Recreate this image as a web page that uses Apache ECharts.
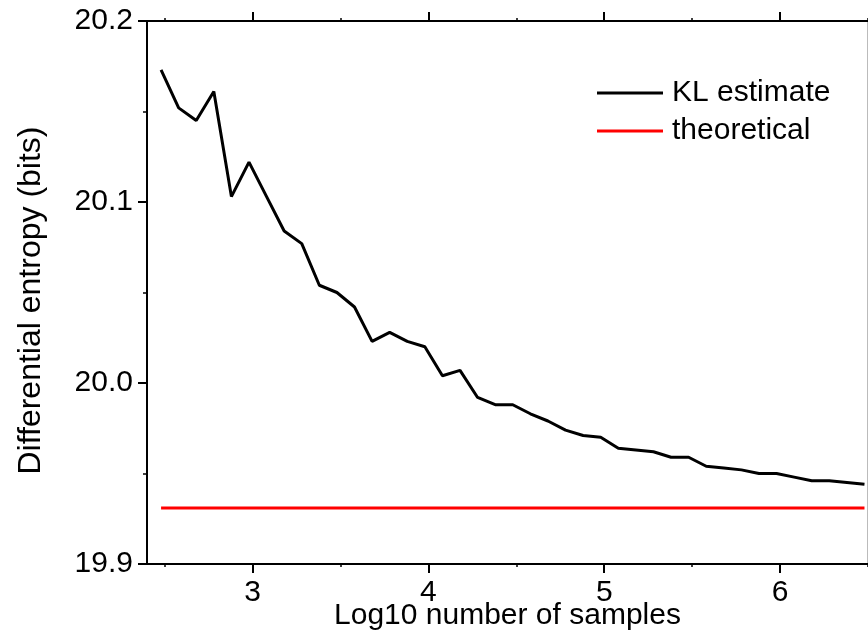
<!DOCTYPE html>
<html>
<head>
<meta charset="utf-8">
<style>
  html, body { margin: 0; padding: 0; background: #fff; }
  #chart { width: 868px; height: 634px; }
</style>
<script src="https://cdn.jsdelivr.net/npm/echarts@6/dist/echarts.min.js"></script>
</head>
<body>
<div id="chart"></div>
<script>
// log10 of the sample count at each estimate
const logSamples = [
  2.48, 2.58, 2.68, 2.78, 2.88, 2.98, 3.08, 3.18, 3.28, 3.38,
  3.48, 3.58, 3.68, 3.78, 3.88, 3.98, 4.08, 4.18, 4.28, 4.38,
  4.48, 4.58, 4.68, 4.78, 4.88, 4.98, 5.08, 5.18, 5.28, 5.38,
  5.48, 5.58, 5.68, 5.78, 5.88, 5.98, 6.08, 6.18, 6.28, 6.38,
  6.48
];
// Kozachenko-Leonenko entropy estimate (bits)
const klEstimate = [
  20.173, 20.152, 20.145, 20.161, 20.103, 20.122, 20.103, 20.084, 20.077, 20.054,
  20.050, 20.042, 20.023, 20.028, 20.023, 20.020, 20.004, 20.007, 19.992, 19.988,
  19.988, 19.983, 19.979, 19.974, 19.971, 19.970, 19.964, 19.963, 19.962, 19.959,
  19.959, 19.954, 19.953, 19.952, 19.950, 19.950, 19.948, 19.946, 19.946, 19.945,
  19.944
];
// closed-form differential entropy (bits)
const theoreticalValue = 19.931;

const xMajorTicks = [3, 4, 5, 6];
const xMinorTicks = [2.5, 3.5, 4.5, 5.5, 6.5];

const FONT = 'Liberation Sans, Arial, sans-serif';
const X_MIN = 2.4, X_MAX = 6.5;

const klData = logSamples.map((x, i) => [x, klEstimate[i]]);
const theoData = [
  [logSamples[0], theoreticalValue],
  [logSamples[logSamples.length - 1], theoreticalValue]
];

function xAxisBase(extra) {
  return Object.assign({
    type: 'value', min: X_MIN, max: X_MAX,
    splitLine: { show: false },
    axisLine: { show: true, lineStyle: { color: '#000', width: 2 } }
  }, extra);
}

const chart = echarts.init(document.getElementById('chart'), null, { renderer: 'canvas' });
chart.setOption({
  animation: false,
  backgroundColor: '#fff',
  grid: { left: 147, top: 21, right: 0, bottom: 70, containLabel: false, outerBoundsMode: 'none' },
  legend: {
    orient: 'vertical',
    left: 597, top: 78,
    padding: 0,
    icon: 'rect',
    itemWidth: 66, itemHeight: 3,
    itemGap: 8,
    data: ['KL estimate', 'theoretical'],
    textStyle: { fontFamily: FONT, fontSize: 30, color: '#000', lineHeight: 30, padding: [0, 0, 0, 4] }
  },
  xAxis: [
    xAxisBase({
      position: 'bottom',
      name: 'Log10 number of samples',
      nameLocation: 'middle',
      nameGap: 37,
      nameMoveOverlap: false,
      nameTextStyle: { fontFamily: FONT, fontSize: 30, color: '#000' },
      axisTick: { show: true, inside: false, length: 9, customValues: xMajorTicks, lineStyle: { color: '#000', width: 2 } },
      axisLabel: {
        show: true, customValues: xMajorTicks, margin: 14,
        fontFamily: FONT, fontSize: 30, color: '#000',
        formatter: v => String(v)
      }
    }),
    xAxisBase({
      position: 'bottom',
      axisLine: { show: false },
      axisTick: { show: true, length: 3, customValues: xMinorTicks, lineStyle: { color: '#000', width: 1.5 } },
      axisLabel: { show: false }
    }),
    xAxisBase({
      position: 'top',
      axisTick: { show: true, inside: false, length: 9, customValues: xMajorTicks, lineStyle: { color: '#000', width: 2 } },
      axisLabel: { show: false }
    }),
    xAxisBase({
      position: 'top',
      axisLine: { show: false },
      axisTick: { show: true, length: 3, customValues: xMinorTicks, lineStyle: { color: '#000', width: 1.5 } },
      axisLabel: { show: false }
    })
  ],
  yAxis: [
    {
      type: 'value', min: 19.9, max: 20.2, interval: 0.1,
      position: 'left',
      name: 'Differential entropy (bits)',
      nameLocation: 'middle',
      nameRotate: 90,
      nameGap: 100,
      nameMoveOverlap: false,
      nameTextStyle: { fontFamily: FONT, fontSize: 32, color: '#000', padding: [0, 16, 0, 0] },
      splitLine: { show: false },
      axisLine: { show: true, lineStyle: { color: '#000', width: 2 } },
      axisTick: { show: true, length: 9, lineStyle: { color: '#000', width: 2 } },
      minorTick: { show: true, splitNumber: 2, length: 4, lineStyle: { color: '#000', width: 1.5 } },
      axisLabel: {
        margin: 14, fontFamily: FONT, fontSize: 30, color: '#000',
        formatter: v => v.toFixed(1)
      }
    },
    {
      type: 'value', min: 19.9, max: 20.2, interval: 0.1,
      position: 'right',
      splitLine: { show: false },
      axisLine: { show: true, lineStyle: { color: '#bbb', width: 2 } },
      axisTick: { show: false },
      axisLabel: { show: false }
    }
  ],
  series: [
    {
      name: 'KL estimate',
      type: 'line',
      data: klData,
      xAxisIndex: 0, yAxisIndex: 0,
      symbol: 'none',
      color: '#000',
      lineStyle: { color: '#000', width: 3 },
      z: 3
    },
    {
      name: 'theoretical',
      type: 'line',
      data: theoData,
      xAxisIndex: 0, yAxisIndex: 0,
      symbol: 'none',
      color: '#ff0000',
      lineStyle: { color: '#ff0000', width: 3 },
      z: 2
    }
  ]
});
</script>
</body>
</html>
